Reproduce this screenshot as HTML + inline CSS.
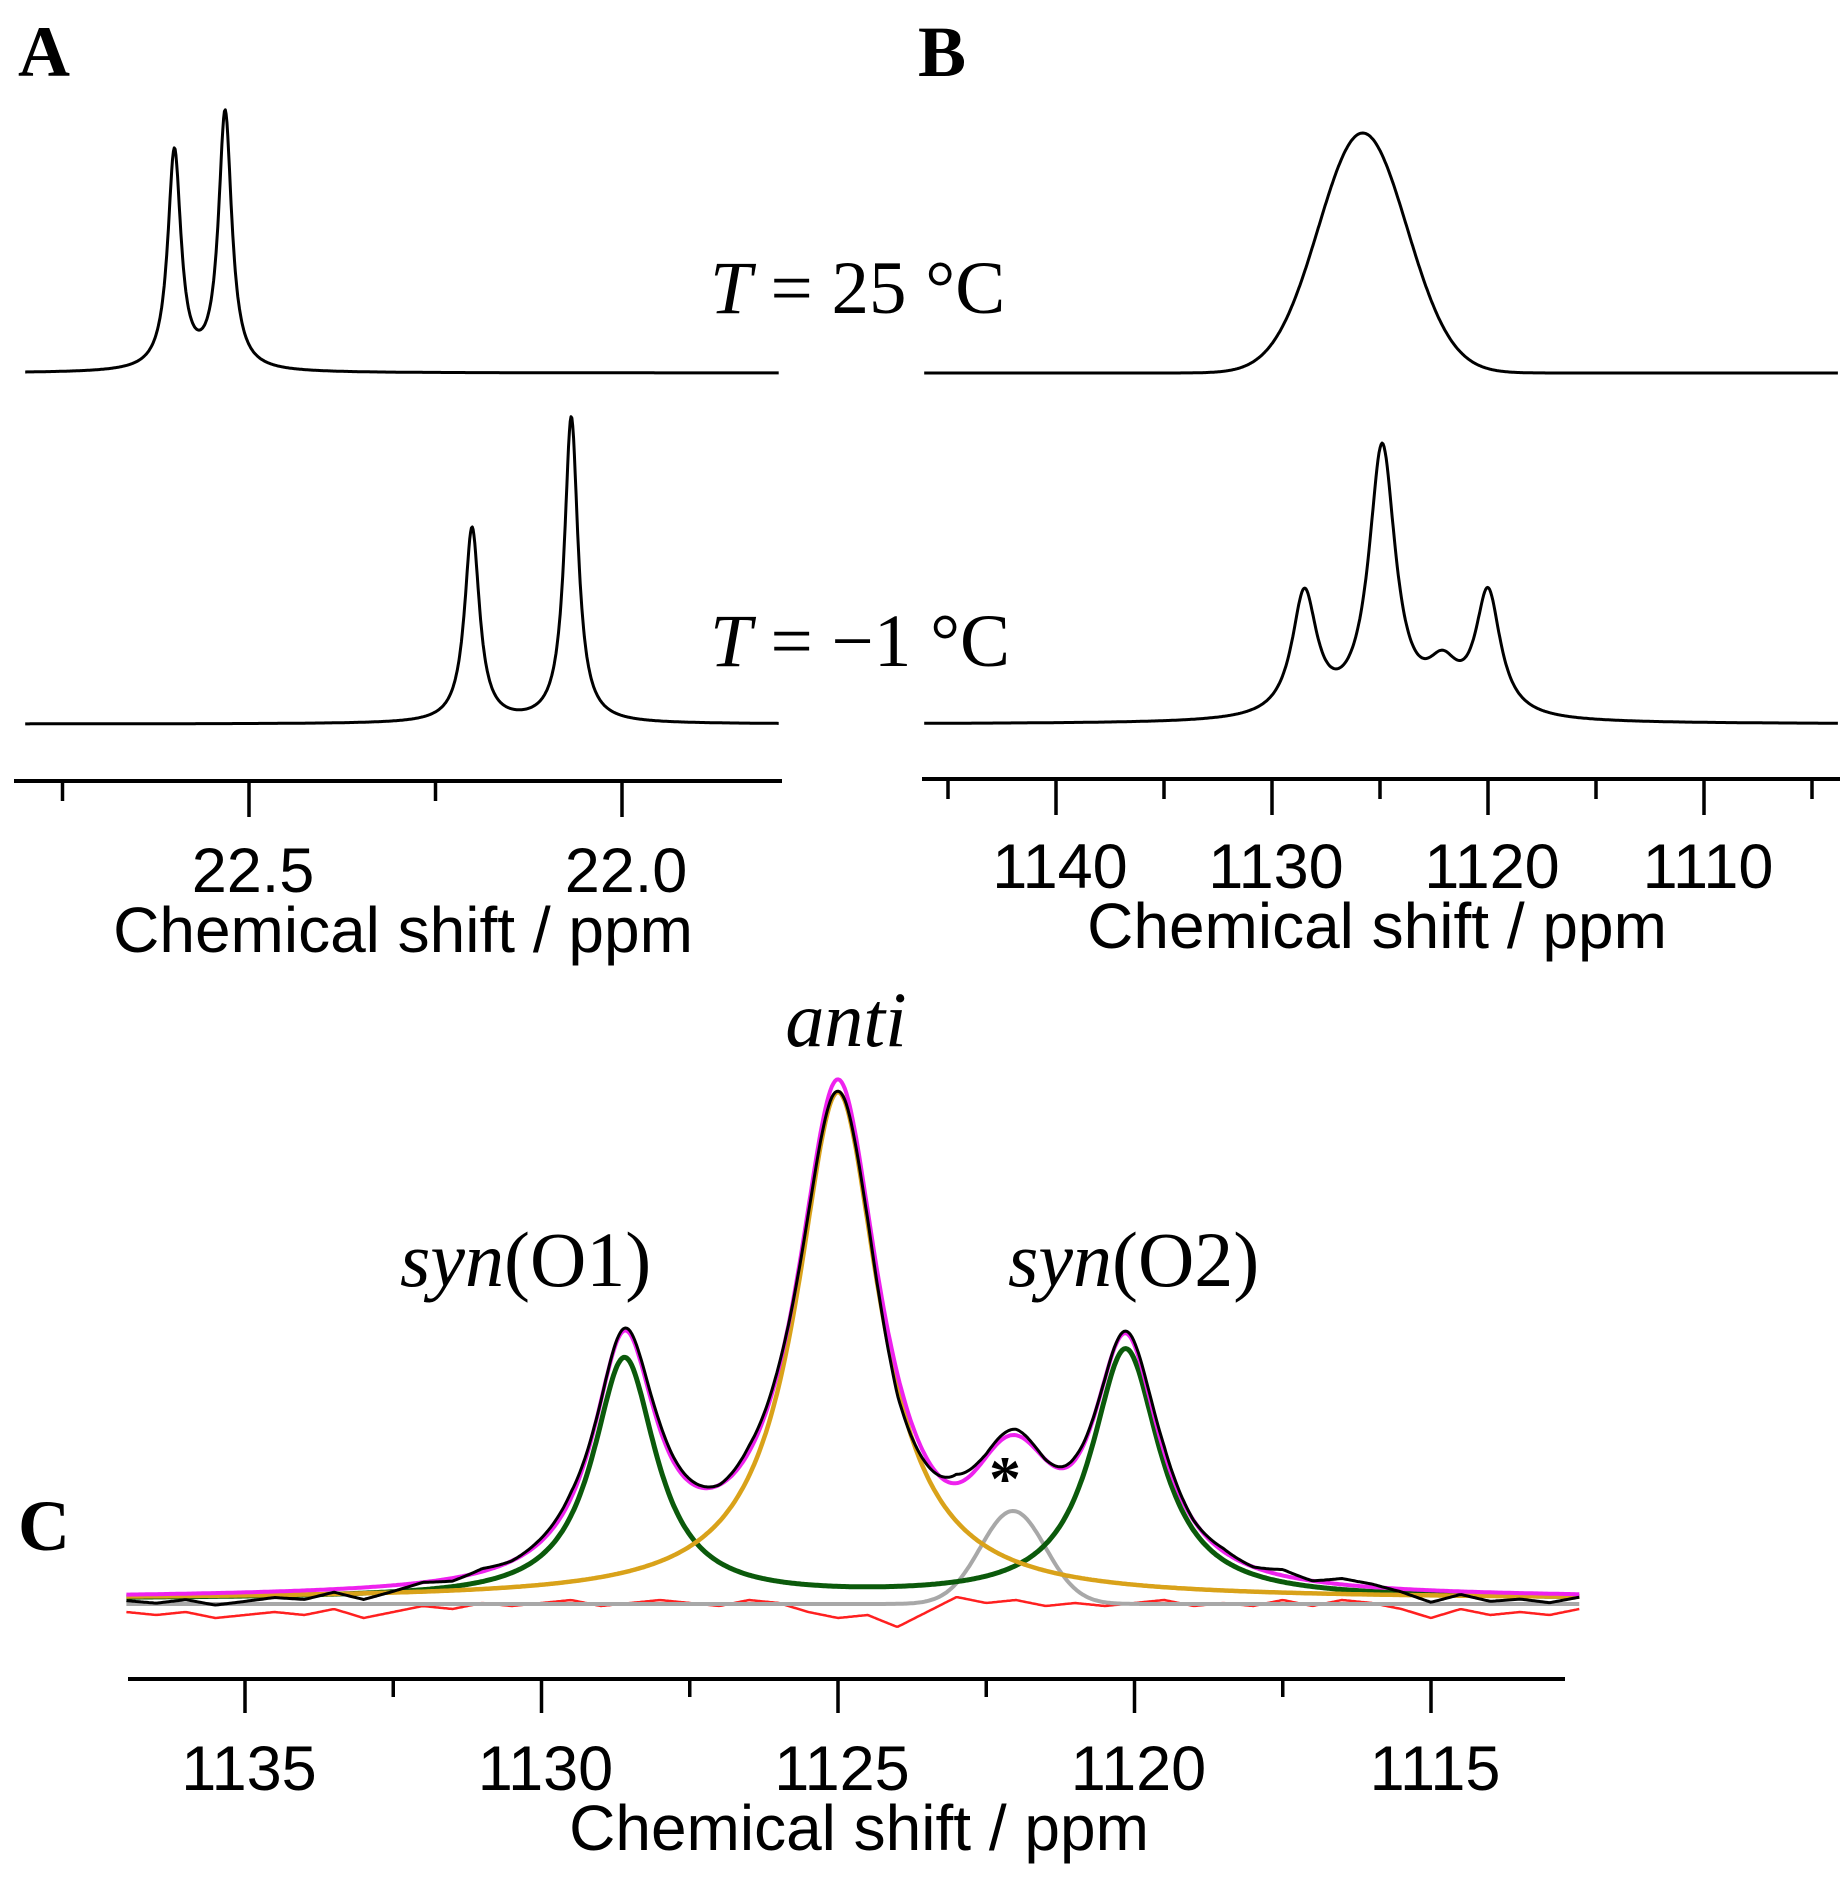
<!DOCTYPE html>
<html><head><meta charset="utf-8"><style>
html,body{margin:0;padding:0;background:#fff}
svg{display:block}
text{font-family:"Liberation Sans",sans-serif;fill:#000}
.serif{font-family:"Liberation Serif",serif}
</style></head><body>
<svg id="fig" width="1848" height="1880" viewBox="0 0 1848 1880">
<text class="serif" x="18" y="76" font-size="72" font-weight="bold">A</text>
<text class="serif" x="918" y="76" font-size="72" font-weight="bold">B</text>
<text class="serif" x="18" y="1550" font-size="72" font-weight="bold">C</text>
<text class="serif" x="710" y="313" font-size="75"><tspan font-style="italic">T</tspan> = 25 °C</text>
<text class="serif" x="710" y="666" font-size="75"><tspan font-style="italic">T</tspan> = −1 °C</text>
<text class="serif" x="846" y="1046" font-size="78" font-style="italic" text-anchor="middle">anti</text>
<text class="serif" x="400" y="1286" font-size="78"><tspan font-style="italic">syn</tspan>(O1)</text>
<text class="serif" x="1008" y="1286" font-size="78"><tspan font-style="italic">syn</tspan>(O2)</text>
<text class="serif" x="1005" y="1500" font-size="64" font-weight="bold" text-anchor="middle">*</text>
<g id="gA"></g>
<g id="gB"></g>
<g id="gC"></g>
</svg>
<script>
// ---------- Panel A data (ppm, intensity a.u., hwhm ppm) ----------
const aTopCenters = [22.60, 22.532];
const aTopAmps = [0.73, 0.86];
const aTopWidths = [0.0107, 0.0107];
const aBotCenters = [22.201, 22.068];
const aBotAmps = [0.65, 1.02];
const aBotWidths = [0.012, 0.011];
const aTicks = [22.75, 22.5, 22.25, 22.0];
const aTickLabels = ["", "22.5", "", "22.0"];
// ---------- Panel B data ----------
const bTopCenters = [1125.8];
const bTopAmps = [0.80];
const bTopSigmas = [2.05];
const bBotCenters = [1128.5, 1124.9, 1122.1, 1120.0];
const bBotAmps = [0.41, 0.90, 0.14, 0.41];
const bBotWidths = [0.7, 0.75, 0.9, 0.7];
const bTicks = [1145, 1140, 1135, 1130, 1125, 1120, 1115, 1110, 1105];
const bTickLabels = ["", "1140", "", "1130", "", "1120", "", "1110", ""];
// ---------- Panel C data ----------
const cAnti = [1125.0, 1.69, 0.85];
const cSynO1 = [1128.6, 0.80, 0.65];
const cSynO2 = [1120.15, 0.83, 0.70];
const cImpurity = [1122.05, 0.31, 0.55];
const cResidPpm = [1137,1136.5,1136,1135.5,1135,1134.5,1134,1133.5,1133,1132.5,1132,1131.5,1131,1130.5,1130,1129.5,1129,1128.5,1128,1127.5,1127,1126.5,1126,1125.5,1125,1124.5,1124,1123.5,1123,1122.5,1122,1121.5,1121,1120.5,1120,1119.5,1119,1118.5,1118,1117.5,1117,1116.5,1116,1115.5,1115,1114.5,1114,1113.5,1113,1112.5];
const cResid = [-0.02,-0.03,-0.02,-0.04,-0.03,-0.02,-0.03,-0.01,-0.04,-0.02,0.0,-0.01,0.01,0.0,0.01,0.02,0.0,0.01,0.02,0.01,0.0,0.02,0.01,-0.02,-0.04,-0.03,-0.07,-0.02,0.03,0.01,0.02,0.0,0.01,0.0,0.01,0.02,0.0,0.01,0.0,0.02,0.0,0.02,0.01,-0.01,-0.04,-0.01,-0.03,-0.02,-0.03,-0.01];
const cTicks = [1135,1132.5,1130,1127.5,1125,1122.5,1120,1117.5,1115];
const cTickLabels = ["1135","","1130","","1125","","1120","","1115"];

const NS = "http://www.w3.org/2000/svg";
function lor(x, c, a, w){ return a/(1+((x-c)/w)**2); }
function gau(x, c, a, s){ return a*Math.exp(-0.5*((x-c)/s)**2); }
function mk(g, tag, attrs){ const e=document.createElementNS(NS,tag); for(const k in attrs) e.setAttribute(k,attrs[k]); g.appendChild(e); return e; }
function curve(g, xf, yf, p0, p1, fn, stroke, sw, name){
  let d=""; const N=900;
  for(let i=0;i<=N;i++){ const p=p0+(p1-p0)*i/N; d+=(i?"L":"M")+xf(p).toFixed(1)+","+yf(fn(p)).toFixed(1); }
  const e=mk(g,"path",{d:d,fill:"none",stroke:stroke,"stroke-width":sw,"stroke-linejoin":"round"});
  
  
  return e;
}
function axis(g, xf, y, x0, x1, ticks, labels, longLen, shortLen, labelY, titleX, titleY, fs, tfs, prefix){
  const l=mk(g,"line",{x1:x0,x2:x1,y1:y,y2:y,stroke:"#000","stroke-width":4});
  
  
  ticks.forEach((t,i)=>{
    const len = labels[i] ? longLen : shortLen;
    const tk=mk(g,"line",{x1:xf(t),x2:xf(t),y1:y,y2:y+len,stroke:"#000","stroke-width":3.5});
    
    
    if(labels[i]){
      const tx=mk(g,"text",{x:xf(t)+4,y:labelY,"font-size":fs,"text-anchor":"middle"});
      tx.textContent=labels[i];
      
      
    }
  });
  const tt=mk(g,"text",{x:titleX,y:titleY,"font-size":tfs,"text-anchor":"middle"});
  tt.textContent="Chemical shift / ppm";
  
  
}
// ---------- Panel A ----------
const gA=document.getElementById("gA");
const xA=p=>622+(22.0-p)*746;
const yATop=v=>373-v*300, yABot=v=>724-v*300;
curve(gA,xA,yATop,22.80,21.79,p=>aTopCenters.reduce((s,c,i)=>s+lor(p,c,aTopAmps[i],aTopWidths[i]),0),"#000",3,"spectrum-a-25c");
curve(gA,xA,yABot,22.80,21.79,p=>aBotCenters.reduce((s,c,i)=>s+lor(p,c,aBotAmps[i],aBotWidths[i]),0),"#000",3,"spectrum-a-minus1c");
axis(gA,xA,781,14,782,aTicks,aTickLabels,36,20,892,403,952,63,64,"panel-a");
// ---------- Panel B ----------
const gB=document.getElementById("gB");
const xB=p=>1488+(1120-p)*21.6;
const yBTop=v=>373-v*300, yBBot=v=>724-v*300;
curve(gB,xB,yBTop,1146.1,1103.8,p=>bTopCenters.reduce((s,c,i)=>s+gau(p,c,bTopAmps[i],bTopSigmas[i]),0),"#000",3,"spectrum-b-25c");
curve(gB,xB,yBBot,1146.1,1103.8,p=>bBotCenters.reduce((s,c,i)=>s+lor(p,c,bBotAmps[i],bBotWidths[i]),0),"#000",3,"spectrum-b-minus1c");
axis(gB,xB,779,922,1840,bTicks,bTickLabels,36,20,888,1377,948,63,64,"panel-b");
// ---------- Panel C ----------
const gC=document.getElementById("gC");
const xC=p=>838+(1125-p)*59.3;
const yC=v=>1599-v*300;
function resAt(p){
  for(let i=0;i<cResidPpm.length-1;i++){
    const a=cResidPpm[i], b=cResidPpm[i+1];
    if(p<=a && p>=b){ const f=(a-p)/(a-b); return cResid[i]*(1-f)+cResid[i+1]*f; }
  }
  return 0;
}
const fitC=p=>lor(p,...cAnti)+lor(p,...cSynO1)+lor(p,...cSynO2)+gau(p,...cImpurity);
curve(gC,xC,v=>1606-v*300,1137,1112.5,p=>resAt(p),"#ff2020",2.5,"residual-curve");
curve(gC,xC,v=>1604-v*300,1137,1112.5,p=>gau(p,...cImpurity),"#a8a8a8",4,"impurity-component");
curve(gC,xC,yC,1137,1112.5,p=>lor(p,...cSynO1)+lor(p,...cSynO2),"#0b5a0b",5,"syn-components");
curve(gC,xC,yC,1137,1112.5,p=>lor(p,...cAnti),"#d9a21a",4.5,"anti-component");
curve(gC,xC,yC,1137,1112.5,fitC,"#ee22ee",4,"total-fit");
curve(gC,xC,yC,1137,1112.5,p=>fitC(p)+resAt(p),"#000",3,"experimental-spectrum");
axis(gC,xC,1679,128,1565,cTicks,cTickLabels,34,18,1790,859,1850,63,64,"panel-c");
</script>
</body></html>
